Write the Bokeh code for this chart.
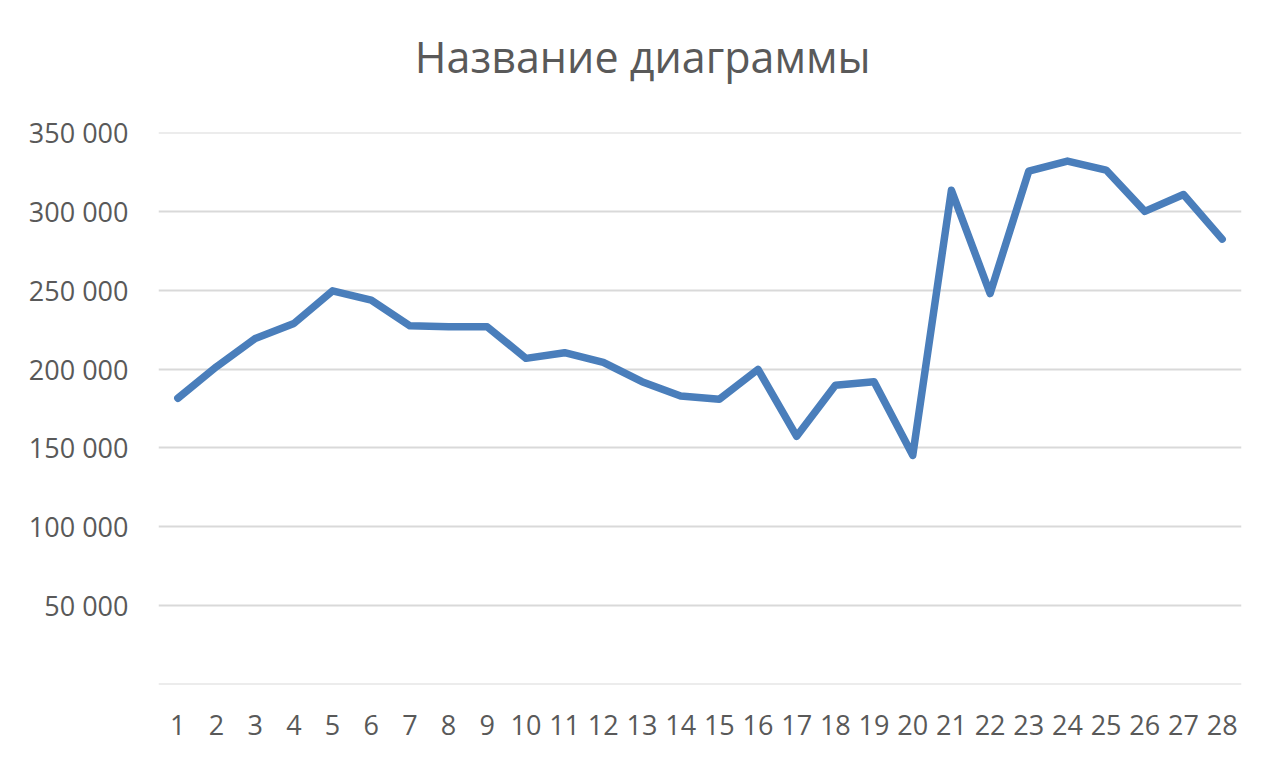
from bokeh.plotting import figure
from bokeh.models import FixedTicker, CustomJSTickFormatter, Range1d, ColumnDataSource, LinearAxis
from bokeh.embed import file_html
from bokeh.resources import INLINE

title_text = "Название диаграммы"
categories = list(range(1, 29))
values = [181500, 201500, 219400, 228900, 249600, 243700, 227400, 226800, 226800, 206800,
          210400, 204300, 192000, 182900, 180900, 199800, 157400, 189800, 191900, 145300,
          313400, 247900, 325500, 331900, 326200, 300000, 310700, 282400]
y_ticks = [0, 50000, 100000, 150000, 200000, 250000, 300000, 350000]

FONT = "Open Sans"
TXT = "#595959"

p = figure(width=1264, height=753, output_backend="svg", toolbar_location=None,
           x_range=Range1d(0.5, 28.5), y_range=Range1d(-1, 350001),
           min_border_left=158, min_border_right=23, min_border_top=132, min_border_bottom=69)
p.outline_line_color = None
p.title.text = ""

xax = p.below[0]
yax = p.left[0]

src = ColumnDataSource(dict(x=categories, y=values))
p.line("x", "y", source=src, line_color="#4a7ebb", line_width=7.5,
       line_join="round", line_cap="round")

p.xgrid.grid_line_color = None
p.ygrid.grid_line_color = "#d9d9d9"
p.ygrid.grid_line_width = 2
yax.ticker = FixedTicker(ticks=y_ticks)
xax.ticker = FixedTicker(ticks=categories)
p.ygrid.ticker = yax.ticker
yax.formatter = CustomJSTickFormatter(code="""
if (Math.abs(tick) < 1) return '';
return Math.round(tick).toString().replace(/\\B(?=(\\d{3})+(?!\\d))/g, ' ');
""")

for ax in (xax, yax):
    ax.axis_line_color = None
    ax.major_tick_line_color = None
    ax.minor_tick_line_color = None
    ax.major_label_text_font = FONT
    ax.major_label_text_font_size = "27px"
    ax.major_label_text_color = TXT
yax.major_label_standoff = 24
xax.major_label_standoff = 24

# chart title drawn as the label of an otherwise invisible top axis
# (em/en/thin spaces pad the right so the title is centred on the whole chart)
title_axis = LinearAxis(ticker=FixedTicker(ticks=[]), axis_line_color=None,
                        major_tick_line_color=None, minor_tick_line_color=None,
                        major_tick_in=0, major_tick_out=0, minor_tick_in=0, minor_tick_out=0,
                        major_label_standoff=0, major_label_text_font_size="0px",
                        axis_label=title_text + "\u2003\u2003\u2002\u2009",
                        axis_label_standoff=47,
                        axis_label_text_font=FONT, axis_label_text_font_size="43px",
                        axis_label_text_font_style="normal", axis_label_text_color=TXT)
p.add_layout(title_axis, "above")

open("out.html", "w").write(file_html(p, INLINE))
